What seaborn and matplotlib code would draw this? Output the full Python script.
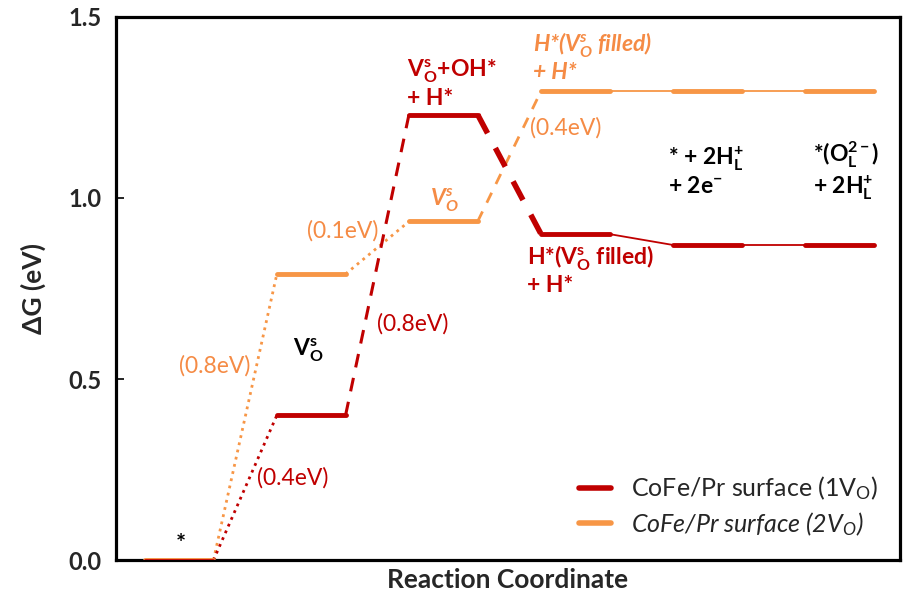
import matplotlib
matplotlib.use("Agg")
import matplotlib.pyplot as plt
import seaborn as sns
import pandas as pd
import numpy as np

sns.set_theme(style="white")
FONT = "Lato"
plt.rcParams["font.family"] = [FONT, "DejaVu Sans"]
plt.rcParams["mathtext.fontset"] = "custom"
plt.rcParams["mathtext.rm"] = FONT
plt.rcParams["mathtext.bf"] = f"{FONT}:bold"
plt.rcParams["mathtext.it"] = f"{FONT}:italic"
plt.rcParams["mathtext.bfit"] = f"{FONT}:bold:italic"

# ---- data ----
steps = [0, 1, 2, 3, 4, 5]
energy_1vo = [0.0, 0.40, 1.23, 0.90, 0.87, 0.87]
energy_2vo = [0.0, 0.79, 0.935, 1.295, 1.295, 1.295]
series_names = ["CoFe/Pr surface (1V$_\\mathregular{O}$)", "CoFe/Pr surface (2V$_\\mathit{O}$)"]
yticks = [0.0, 0.5, 1.0, 1.5]

RED = "#C00000"
ORANGE = "#F79646"
ORANGE_TXT = "#F58B45"
HALF = 0.26

fig = plt.figure(figsize=(9.04, 6.01), dpi=100)
ax = fig.add_axes([0.128, 0.068, 0.868, 0.904])

# level segments
rows = []
for name, en in zip(series_names, [energy_1vo, energy_2vo]):
    for s, e in zip(steps, en):
        rows.append(dict(series=name, step=s, x=s - HALF, E=e))
        rows.append(dict(series=name, step=s, x=s + HALF, E=e))
df = pd.DataFrame(rows)

# connectors
def connect(en, i, color, ls, lw, dashes=None):
    xs = [steps[i] + HALF, steps[i + 1] - HALF]
    ys = [en[i], en[i + 1]]
    line, = ax.plot(xs, ys, color=color, lw=lw, ls=ls, zorder=2)
    if dashes is not None:
        line.set_dashes(dashes)

# orange connectors
connect(energy_2vo, 0, ORANGE, ":", 2.0)
connect(energy_2vo, 1, ORANGE, ":", 2.0)
connect(energy_2vo, 2, ORANGE, "--", 2.0, (4, 3.5))
connect(energy_2vo, 3, ORANGE, "-", 1.3)
connect(energy_2vo, 4, ORANGE, "-", 1.3)
# red connectors
connect(energy_1vo, 0, RED, ":", 2.0)
connect(energy_1vo, 1, RED, "--", 2.2, (4.5, 3.5))
connect(energy_1vo, 2, RED, "--", 4.0, (3.8, 3))
connect(energy_1vo, 3, RED, "-", 1.3)
connect(energy_1vo, 4, RED, "-", 1.3)

sns.lineplot(data=df[df.series == series_names[1]], x="x", y="E", units="step",
             estimator=None, color=ORANGE, lw=3.5, ax=ax, legend=False, zorder=3)
sns.lineplot(data=df[(df.series == series_names[0]) & (df.step > 0)], x="x", y="E", units="step",
             estimator=None, color=RED, lw=3.5, ax=ax, legend=False, zorder=4)
sns.lineplot(data=df[(df.series == series_names[0]) & (df.step == 0)], x="x", y="E", units="step",
             estimator=None, color=RED, lw=2.0, ax=ax, legend=False, zorder=4)

ax.set_xlim(-0.48, 5.46)
ax.set_ylim(0, 1.5)
ax.set_yticks(yticks)
ax.set_yticklabels([f"{t:.1f}" for t in yticks], fontsize=17, fontweight="bold")
ax.set_xticks([])
ax.tick_params(axis="y", direction="in", length=6, width=1.2, color="black", pad=10, left=True)
for sp in ax.spines.values():
    sp.set_color("black")
    sp.set_linewidth(2.3)
    sp.set_visible(True)
ax.set_ylabel("ΔG (eV)", fontsize=19, fontweight="bold", labelpad=16)
ax.set_xlabel("Reaction Coordinate", fontsize=19, fontweight="bold", labelpad=6)

TS = 16.5
BS = 16.5
def T(x, y, s, color="black", **kw):
    ax.text(x, y, s, color=color, fontsize=kw.pop("fs", TS), **kw)

T(0.015, 0.042, "*", fontweight="bold", ha="center", va="center", fs=17)
T(0.98, 0.58, "V$_\\mathbf{O}^\\mathbf{s}$", fontweight="bold", ha="center", va="center", fs=BS)
T(0.27, 0.536, "(0.8eV)", ORANGE_TXT, ha="center", va="center")
T(0.86, 0.227, "(0.4eV)", RED, ha="center", va="center")
T(1.77, 0.652, "(0.8eV)", RED, ha="center", va="center")
T(1.24, 0.909, "(0.1eV)", ORANGE_TXT, ha="center", va="center")
T(2.01, 0.994, "V$_\\mathbfit{O}^\\mathbfit{s}$", ORANGE_TXT, fontweight="bold", fontstyle="italic",
  ha="center", va="center", fs=BS)
T(1.727, 1.316, "V$_\\mathbf{O}^\\mathbf{s}$+OH*\n+ H*", RED, fontweight="bold", ha="left",
  va="center", linespacing=1.2, fs=BS)
T(2.93, 1.193, "(0.4eV)", ORANGE_TXT, ha="center", va="center")
T(2.68, 1.391, "H*(V$_\\mathbfit{O}^\\mathbfit{s}$ filled)\n+ H*", ORANGE_TXT, fontweight="bold",
  fontstyle="italic", ha="left", va="center", linespacing=1.2, fs=BS)
T(2.636, 0.802, "H*(V$_\\mathbf{O}^\\mathbf{s}$ filled)\n+ H*", RED, fontweight="bold", ha="left",
  va="center", linespacing=1.2, fs=BS)
T(3.70, 1.075, "* + 2H$_\\mathbf{L}^\\mathbf{+}$\n+ 2e$^\\mathbf{-}$", fontweight="bold", ha="left",
  va="center", linespacing=1.2, fs=BS)
T(4.80, 1.075, "*(O$_\\mathbf{L}^\\mathbf{2-}$)\n+ 2H$_\\mathbf{L}^\\mathbf{+}$", fontweight="bold",
  ha="left", va="center", linespacing=1.2, fs=BS)

handles = [plt.Line2D([], [], color=RED, lw=4), plt.Line2D([], [], color=ORANGE, lw=4)]
leg = ax.legend(handles, series_names, loc="lower right", bbox_to_anchor=(1.0, 0.0),
                frameon=False, fontsize=18, handlelength=1.25, handletextpad=0.8, labelspacing=0.3)
leg.get_texts()[1].set_fontstyle("italic")

fig.savefig("out.png", dpi=100)
